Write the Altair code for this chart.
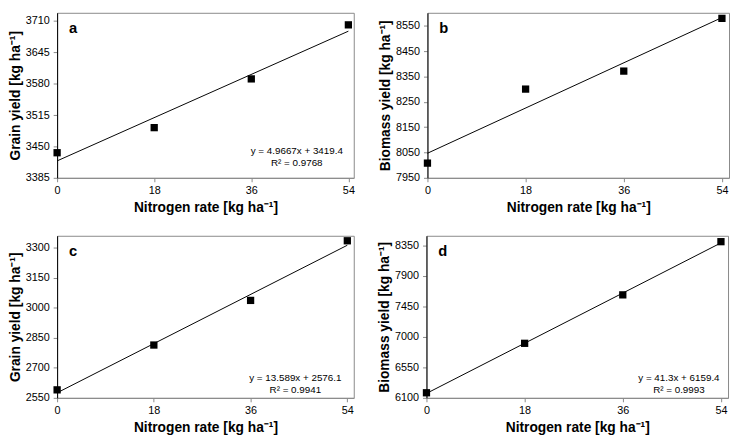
import altair as alt
import pandas as pd

# ---- data ----
nitrogen = [0, 18, 36, 54]
grain_a = [3437, 3489, 3590, 3702]
biomass_b = [8008, 8300, 8371, 8579]
grain_c = [2590, 2814, 3037, 3335]
biomass_d = [6175, 6905, 7620, 8405]

letters = ["a", "b", "c", "d"]
y_titles = ["Grain yield [kg ha⁻¹]", "Biomass yield [kg ha⁻¹]",
            "Grain yield [kg ha⁻¹]", "Biomass yield [kg ha⁻¹]"]
x_title = "Nitrogen rate [kg ha⁻¹]"
x_ticks = [0, 18, 36, 54]
y_ticks_a = [3385, 3450, 3515, 3580, 3645, 3710]
y_ticks_b = [7950, 8050, 8150, 8250, 8350, 8450, 8550]
y_ticks_c = [2550, 2700, 2850, 3000, 3150, 3300]
y_ticks_d = [6100, 6550, 7000, 7450, 7900, 8350]
y_domain_a = [3385, 3727]
y_domain_b = [7950, 8601]
y_domain_c = [2550, 3360]
y_domain_d = [6100, 8492]
x_max = [55.0, 55.3, 55.2, 55.3]
eq_a = ["y = 4.9667x + 3419.4", "R² = 0.9768"]
eq_c = ["y = 13.589x + 2576.1", "R² = 0.9941"]
eq_d = ["y = 41.3x + 6159.4", "R² = 0.9993"]

values = [grain_a, biomass_b, grain_c, biomass_d]
y_ticks = [y_ticks_a, y_ticks_b, y_ticks_c, y_ticks_d]
y_domains = [y_domain_a, y_domain_b, y_domain_c, y_domain_d]
equations = [eq_a, None, eq_c, eq_d]

FONT = "Liberation Sans"
GRAY = "#898989"

# layout (styling only)
widths = [302, 307, 302, 307]
heights = [168, 168, 165, 165]
eq_pos = [(58, 27, 15), None, (59.5, 20, 8), (50, 20, 8)]


def panel(i):
    w, h = widths[i], heights[i]
    df = pd.DataFrame({"x": nitrogen, "y": values[i]})
    base = alt.Chart(df)
    xenc = alt.X("x:Q",
                 scale=alt.Scale(domain=[0, x_max[i]], nice=False, zero=False),
                 axis=alt.Axis(values=x_ticks, title=x_title, format="d",
                               labelOverlap=False, labelFlush=False,
                               tickCount=len(x_ticks)))
    yenc = alt.Y("y:Q",
                 scale=alt.Scale(domain=y_domains[i], nice=False, zero=False),
                 axis=alt.Axis(values=y_ticks[i], title=y_titles[i], format="d",
                               labelOverlap=False, labelFlush=False,
                               tickCount=len(y_ticks[i])))
    pts = base.mark_point(shape="square", filled=True, size=55,
                          color="black", opacity=1).encode(x=xenc, y=yenc)
    line = base.transform_regression("x", "y", extent=[0, 54]).mark_line(
        color="black", strokeWidth=1).encode(x=xenc, y=yenc)
    letter = alt.Chart(pd.DataFrame({"t": [letters[i]]})).mark_text(
        font=FONT, fontSize=15, fontWeight="bold", align="left",
        baseline="alphabetic", color="black").encode(
        x=alt.value(12), y=alt.value(21), text="t:N")
    layers = [line, pts, letter]
    if equations[i] is not None:
        dx, dy1, dy2 = eq_pos[i]
        for txt, dy in zip(equations[i], (dy1, dy2)):
            layers.append(
                alt.Chart(pd.DataFrame({"t": [txt]})).mark_text(
                    font=FONT, fontSize=10, align="center", baseline="middle",
                    color="black").encode(
                    x=alt.value(w - dx), y=alt.value(h - dy), text="t:N"))
    return alt.layer(*layers).properties(width=w, height=h)


row1 = alt.hconcat(panel(0), panel(1), spacing=23)
row2 = alt.hconcat(panel(2), panel(3), spacing=23)
chart = alt.vconcat(row1, row2, spacing=20).properties(padding=0)

chart = chart.configure_view(stroke=GRAY, strokeWidth=1).configure_axis(
    grid=False, labelFont=FONT, labelFontSize=11, labelColor="black",
    titleFont=FONT, titleFontSize=14, titleFontWeight="bold", titleColor="black",
    tickColor=GRAY, tickSize=4, labelPadding=4, titlePadding=3,
    labelOverlap=False, labelFlush=False, labelBound=False,
).configure_axisY(domainColor="black", labelPadding=4, titlePadding=3
).configure_axisX(domainColor=GRAY, labelPadding=3, titlePadding=5)

chart.save("out.html", embed_options={"renderer": "svg", "actions": False})
